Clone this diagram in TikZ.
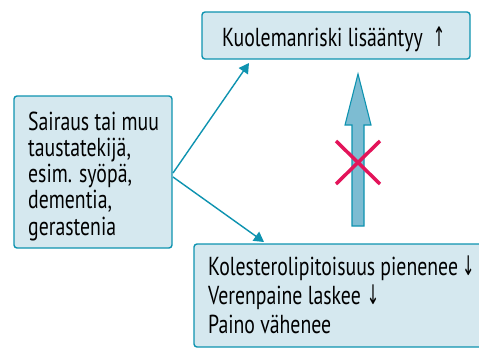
\documentclass[tikz,border=0pt]{standalone}
\usepackage{fontspec}
\setmainfont[FakeStretch=0.76]{PT Sans}
\newfontfamily\arrowfont[FakeStretch=0.55]{DejaVu Sans}
\usetikzlibrary{arrows.meta}
\definecolor{teal1}{HTML}{0E93B0}
\definecolor{boxfill}{HTML}{D5E8EF}
\definecolor{bigarrow}{HTML}{7DBCD2}
\definecolor{crossred}{HTML}{E3145A}
\newcommand{\uparr}[1]{\hspace{#1}{\arrowfont\fontsize{27}{27}\selectfont↑}}
\newcommand{\downarr}[1]{\hspace{#1}{\arrowfont\fontsize{27}{27}\selectfont↓}}
\tikzset{
  box/.style={draw=teal1, fill=boxfill, line width=1.4pt, rounded corners=3pt},
  txt/.style={anchor=base west, inner sep=0pt, font=\fontsize{26}{26}\selectfont, align=left},
  conn/.style={draw=teal1, line width=1.4pt, -{Triangle[length=10pt,width=11pt]}},
}
\begin{document}
\begin{tikzpicture}[x=1pt,y=1pt]
\useasboundingbox (0,0) rectangle (479,349);
% boxes (y flipped: y_tikz = 349 - y_img)
\path[box] (202,290) rectangle (470,337);
\path[box] (14,101) rectangle (172,253);
\path[box] (194,2) rectangle (490,105);
\node[txt] (top) at (222,302) {Kuolemanriski lisääntyy\uparr{10pt}};
\node[txt, font=\fontsize{26}{26.25}\selectfont] (left) at (28,114) {Sairaus tai muu\\taustatekijä,\\esim. syöpä,\\dementia,\\gerastenia};
\node[txt, font=\fontsize{26}{29}\selectfont] (bot) at (208,16) {Kolesterolipitoisuus pienenee\downarr{4pt}\\Verenpaine laskee\downarr{6pt}\\Paino vähenee};
% connectors
\coordinate (src1) at (173,176);
\coordinate (src2) at (173,172);
\coordinate (tip1) at (249,286);
\coordinate (tip2) at (264,107);
\draw[conn] (src1) -- (tip1);
\draw[conn] (src2) -- (tip2);
% big arrow
\path[draw=teal1, fill=bigarrow, line width=1.1pt, line join=miter]
  (352,123) -- (352,224) -- (345,224) -- (358,275) -- (371,224) -- (364,224) -- (364,123) -- cycle;
% cross
\draw[crossred, line width=3.5pt] (336,208) -- (380,165);
\draw[crossred, line width=3.5pt] (336,165) -- (380,208);
\end{tikzpicture}
\end{document}
